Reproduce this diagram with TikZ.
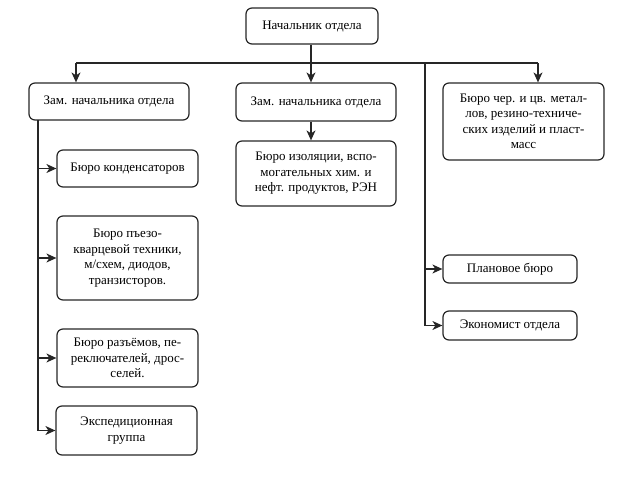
\documentclass[tikz,border=0pt]{standalone}
\usepackage{fontspec}
\setmainfont{Liberation Serif}
\newfontfamily\tnr{Liberation Serif}
\usetikzlibrary{arrows.meta}
\begin{document}
\begin{tikzpicture}[x=1pt,y=-1pt,
  box/.style={draw=black!85, line width=1.2pt, rounded corners=6pt, align=center,
    inner sep=0pt, font=\tnr\fontsize{13}{15.5}\selectfont},
  arr/.style={line width=1.2pt, draw=black!85, -{Stealth[length=10pt,width=9pt,inset=3pt]}},
  ln/.style={line width=1.2pt, draw=black!85}]
\useasboundingbox (0,0) rectangle (641,482);
\node[box, minimum width=132pt, minimum height=36pt] (top) at (312,26) {Начальник отдела};
\node[box, minimum width=160pt, minimum height=37pt] (z1) at (109,101.5) {Зам. начальника отдела};
\node[box, minimum width=160pt, minimum height=38pt] (z2) at (316,102) {Зам. начальника отдела};
\node[box, minimum width=161pt, minimum height=77pt] (bch) at (523.5,121.5) {Бюро чер. и цв. метал-\\лов, резино-техниче-\\ских изделий и пласт-\\масс};
\node[box, minimum width=160pt, minimum height=65pt] (iz) at (316,173.5) {Бюро изоляции, вспо-\\могательных хим. и\\нефт. продуктов, РЭН};
\node[box, minimum width=141pt, minimum height=37pt] (k1) at (127.5,168.5) {Бюро конденсаторов};
\node[box, minimum width=141pt, minimum height=84pt] (k2) at (127.5,258) {Бюро пъезо-\\кварцевой техники,\\м/схем, диодов,\\транзисторов.};
\node[box, minimum width=141pt, minimum height=58pt] (k3) at (127.5,358) {Бюро разъёмов, пе-\\реключателей, дрос-\\селей.};
\node[box, minimum width=141pt, minimum height=49pt] (k4) at (126.5,430.5) {Экспедиционная\\группа};
\node[box, minimum width=134pt, minimum height=28pt] (p1) at (510,269) {Плановое бюро};
\node[box, minimum width=134pt, minimum height=29pt] (p2) at (510,325.5) {Экономист отдела};

\coordinate (busL) at (76,63);
\coordinate (busR) at (538,63);
\coordinate (busM) at (425,63);
\coordinate (lv) at (38,120);
\coordinate (mv) at (311,63);

\draw[ln] (busL) -- (busR);
\draw[arr] (top.south -| mv) -- (mv |- z2.north);
\draw[arr] (busL) -- (busL |- z1.north);
\draw[arr] (busR) -- (busR |- bch.north);
\draw[arr] (mv |- z2.south) -- (mv |- iz.north);
\draw[arr] (busM) |- (p1.west);
\draw[arr] (busM) |- (p2.west);
\draw[arr] (lv) |- (k1.west);
\draw[arr] (lv) |- (k2.west);
\draw[arr] (lv) |- (k3.west);
\draw[arr] (lv) |- (k4.west);
\end{tikzpicture}
\end{document}
